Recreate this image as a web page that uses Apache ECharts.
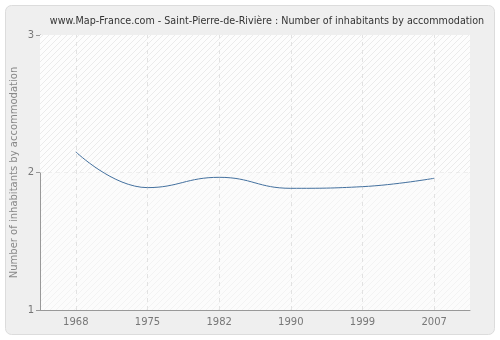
<!DOCTYPE html>
<html><head><meta charset="utf-8">
<script src="https://cdn.jsdelivr.net/npm/echarts@6/dist/echarts.min.js"></script>
<style>html,body{margin:0;padding:0;background:#fff}#c{width:500px;height:340px}</style>
</head><body><div id="c"></div>
<script>
const years = ['1968','1975','1982','1990','1999','2007'];
const values = [2.15, 1.89, 1.965, 1.885, 1.897, 1.958];
const yTicks = [1, 2, 3];
const titleText = 'www.Map-France.com - Saint-Pierre-de-Rivière : Number of inhabitants by accommodation';
const yName = 'Number of inhabitants by accommodation';

function hatch(bg, fg) {
  const pc = document.createElement('canvas');
  pc.width = 6; pc.height = 6;
  const g = pc.getContext('2d');
  g.fillStyle = bg; g.fillRect(0,0,6,6);
  g.strokeStyle = fg; g.lineWidth = 1;
  g.beginPath(); g.moveTo(0,6); g.lineTo(6,0); g.stroke();
  g.beginPath(); g.moveTo(-1,1); g.lineTo(1,-1); g.stroke();
  g.beginPath(); g.moveTo(5,7); g.lineTo(7,5); g.stroke();
  return pc;
}
const lowPat = hatch('#fcfcfc', '#f3f3f3');
const upPat = hatch('#fdfdfd', '#ebebeb');

const chart = echarts.init(document.getElementById('c'), null, {renderer:'canvas'});
chart.setOption({
  animation: false,
  backgroundColor: '#fff',
  graphic: [{type:'rect', z:-10, shape:{x:5.5,y:5.5,width:489,height:329,r:6}, style:{fill:'#efefef', stroke:'#dcdcdc', lineWidth:1}}],
  title: {text: titleText, left: 262, top: 11, textAlign:'center', textStyle:{fontFamily:'DejaVu Sans', fontSize:9.6, fontWeight:'normal', color:'#333'}},
  grid: {left:40, right:30, top:35, bottom:30, outerBoundsMode:'none', containLabel:false, show:true, backgroundColor:{image:lowPat, repeat:'repeat'}, borderWidth:0},
  xAxis: {type:'category', data: years, boundaryGap:true,
    axisLine:{lineStyle:{color:'#999'}}, axisTick:{alignWithLabel:true, length:5, lineStyle:{color:'#999'}},
    axisLabel:{color:'#777', fontFamily:'DejaVu Sans', fontSize:10, margin:7},
    splitLine:{show:false}},
  yAxis: {type:'value', min:1, max:3, interval:1, name: yName, nameLocation:'middle', nameGap:21, nameMoveOverlap:false,
    nameTextStyle:{color:'#888', fontFamily:'DejaVu Sans', fontSize:10},
    axisLine:{show:true, lineStyle:{color:'#999'}}, axisTick:{show:true, length:4, lineStyle:{color:'#999'}},
    axisLabel:{color:'#777', fontFamily:'DejaVu Sans', fontSize:10, margin:6,
      formatter: v => yTicks.includes(v) ? String(v) : ''},
    splitLine:{show:true, lineStyle:{color:'#e2e2e2', type:[4,4]}}},
  series: [{type:'line', data: values, smooth:0.45, symbol:'none', lineStyle:{color:'#44719f', width:1}, z:5,
    markArea:{silent:true, itemStyle:{color:{image:upPat, repeat:'repeat'}}, data:[[{yAxis:2},{yAxis:3}]]},
    markLine:{silent:true, symbol:'none', label:{show:false}, lineStyle:{color:'#e2e2e2', type:[4,4], width:1},
      data: years.map(y => ({xAxis: y}))}
  }]
});
</script></body></html>
